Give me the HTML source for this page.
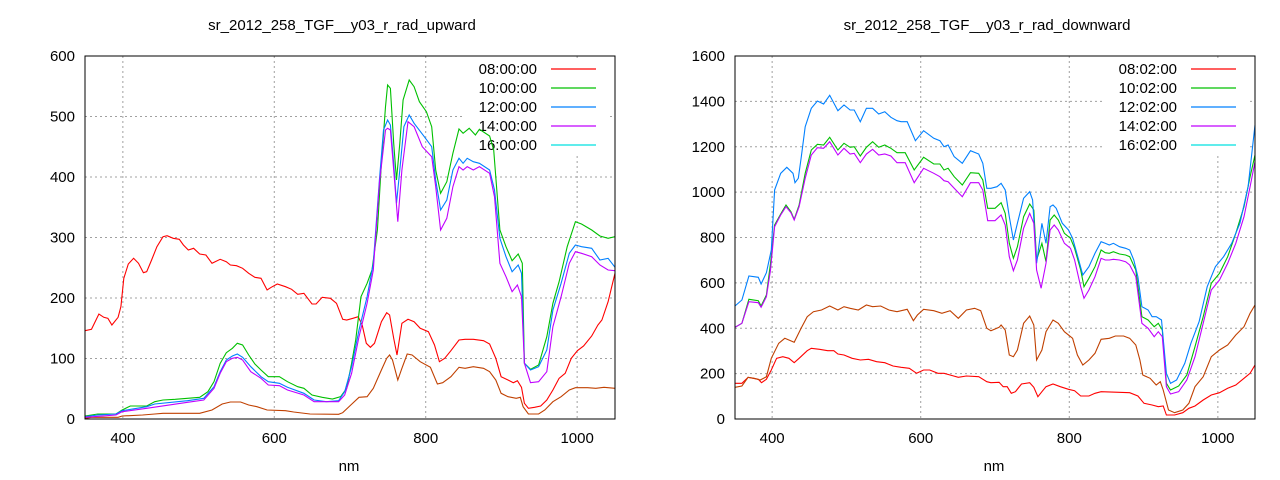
<!DOCTYPE html>
<html><head><meta charset="utf-8"><style>
html,body{margin:0;padding:0;background:#fff;}
svg{display:block;font-family:"Liberation Sans",sans-serif;}
</style></head><body>
<svg id="s" width="1280" height="480" xmlns="http://www.w3.org/2000/svg"></svg>
<script>
const S=document.getElementById('s');let h='';
function plot(o){
 const {L,R,T,B,xt,yt,ymax,title,labels,series,zl,zr}=o;
 const xm=v=>L+(v-350)/(700)*(R-L), ym=v=>B-v/ymax*(B-T);
 // grid
 for(const v of xt){const x=xm(v);h+=`<line x1="${x}" y1="${T}" x2="${x}" y2="${B}" stroke="#a0a0a0" stroke-dasharray="2,3"/>`;
  h+=`<text x="${x}" y="${B+24}" font-size="15" text-anchor="middle" fill="#000">${v}</text>`;}
 for(const v of yt){const y=ym(v);if(v>0&&v<ymax)h+=`<line x1="${L}" y1="${y}" x2="${R}" y2="${y}" stroke="#a0a0a0" stroke-dasharray="2,3"/>`;
  h+=`<text x="${L-10}" y="${y+5}" font-size="15" text-anchor="end" fill="#000">${v}</text>`;}
 h+=`<rect x="${R-153}" y="${T+2}" width="145" height="96" fill="#fff"/>`;
 const cols=['#ff0000','#00c000','#0080ff','#c000ff','#00e0e0'];
 labels.forEach((t,i)=>{const y=T+13+i*19;h+=`<text x="${R-78}" y="${y+5}" font-size="15" text-anchor="end" fill="#000">${t}</text><line x1="${R-64}" y1="${y}" x2="${R-19}" y2="${y}" stroke="${cols[i]}" stroke-width="1.2"/>`;});
 for(const [c,pts] of series){let p=[];for(let i=0;i<pts.length;i+=2){p.push((L+(pts[i]-zl)*(R-L)/(1507-zl)).toFixed(1)+','+(30+pts[i+1]/3).toFixed(1));}
  h+=`<polyline points="${p.join(' ')}" fill="none" stroke="${c}" stroke-width="1.1"/>`;}
 h+=`<rect x="${L}" y="${T}" width="${R-L}" height="${B-T}" fill="none" stroke="#000"/>`;
 h+=`<text x="${(L+R)/2-8}" y="30" font-size="15" text-anchor="middle">${title}</text>`;
 h+=`<text x="${(L+R)/2-1}" y="471" font-size="15" text-anchor="middle">nm</text>`;
}
plot({L:85,R:615,T:56,B:419,xt:[400,600,800,1000],yt:[0,100,200,300,400,500,600],ymax:600,zl:209,
title:'sr_2012_258_TGF__y03_r_rad_upward',labels:['08:00:00','10:00:00','12:00:00','14:00:00','16:00:00'],
series:[
['#ff0000',[209,902,225,898,243,852,255,862,265,865,275,885,290,862,297,830,304,745,315,702,328,685,340,700,352,728,360,725,372,690,385,650,400,620,410,617,425,625,440,628,450,645,462,660,475,655,490,672,505,675,520,700,540,688,555,695,565,705,580,707,595,715,610,730,625,742,640,745,655,780,665,772,680,762,700,770,715,778,730,793,745,790,765,822,775,822,790,802,810,805,825,820,840,868,850,870,865,865,878,860,888,885,898,940,908,952,918,940,935,875,948,848,955,855,965,925,973,975,985,880,1000,868,1015,875,1030,895,1050,905,1065,945,1077,995,1090,985,1105,962,1125,930,1140,928,1160,928,1185,932,1200,942,1215,985,1228,1040,1245,1050,1258,1058,1268,1052,1278,1072,1285,1120,1295,1135,1310,1132,1325,1128,1340,1110,1355,1080,1370,1045,1385,1030,1400,985,1415,962,1430,948,1450,918,1465,885,1475,870,1490,815,1507,730]],
['#c04000',[209,1165,225,1162,290,1162,300,1158,350,1155,380,1152,400,1150,490,1150,520,1140,545,1122,565,1116,590,1116,610,1125,630,1130,655,1140,700,1142,720,1146,760,1152,830,1153,840,1148,860,1125,880,1102,900,1100,915,1075,935,1020,948,985,955,975,962,990,975,1050,985,1015,998,972,1010,975,1030,995,1055,1012,1072,1062,1085,1058,1105,1040,1125,1012,1140,1015,1160,1010,1185,1015,1200,1025,1215,1050,1228,1090,1245,1100,1265,1105,1275,1102,1282,1130,1295,1152,1320,1152,1335,1140,1355,1115,1375,1100,1395,1080,1410,1073,1440,1073,1460,1075,1480,1072,1507,1075]],
['#00c000',[209,1158,240,1152,285,1152,300,1140,320,1128,360,1128,380,1115,400,1110,430,1108,460,1105,490,1102,510,1085,525,1055,540,1000,555,968,570,955,582,940,595,945,610,975,625,1002,640,1020,658,1040,685,1040,705,1055,730,1070,745,1075,765,1095,790,1102,815,1107,835,1100,850,1075,862,1000,872,930,885,800,900,760,912,720,925,600,935,400,945,230,950,165,957,175,965,340,972,450,980,340,988,210,1003,150,1015,170,1028,215,1045,245,1058,290,1068,420,1080,490,1095,455,1110,370,1125,297,1135,310,1150,295,1165,315,1175,298,1200,318,1210,360,1225,600,1240,650,1255,692,1270,672,1280,700,1285,1000,1300,1018,1320,1005,1340,920,1355,820,1370,755,1390,650,1410,575,1425,582,1450,600,1470,618,1490,625,1507,620]],
['#0080ff',[209,1160,240,1155,285,1152,300,1142,360,1130,380,1122,460,1112,500,1105,525,1070,540,1025,555,990,570,978,582,972,595,982,615,1010,640,1040,658,1055,685,1060,705,1072,745,1090,770,1110,800,1115,830,1112,845,1085,862,1010,880,900,900,800,915,700,930,450,940,300,950,270,957,285,965,400,972,520,980,420,990,290,1003,255,1015,280,1040,320,1058,350,1068,450,1080,540,1095,510,1110,420,1125,385,1135,400,1145,385,1160,395,1175,400,1200,420,1212,480,1225,625,1240,680,1255,725,1270,705,1278,730,1285,1000,1300,1020,1320,1010,1340,960,1355,840,1375,760,1395,670,1410,645,1425,650,1450,655,1470,690,1490,685,1507,712]],
['#c000ff',[209,1162,285,1155,300,1145,360,1135,460,1117,500,1110,525,1075,540,1030,555,995,570,985,582,982,595,990,615,1025,640,1045,658,1065,685,1067,705,1080,745,1095,770,1115,830,1115,845,1095,862,1030,880,920,900,820,915,720,930,460,945,300,950,295,957,300,965,420,975,575,985,420,1000,275,1015,290,1035,350,1058,380,1068,470,1080,600,1095,565,1110,470,1125,410,1135,420,1145,410,1160,420,1175,410,1200,430,1212,500,1225,700,1240,740,1255,785,1268,765,1278,800,1285,1000,1300,1058,1320,1055,1340,1025,1355,890,1375,800,1395,700,1410,665,1425,670,1450,680,1470,705,1490,720,1507,722]]
]});
plot({L:735,R:1255,T:56,B:419,xt:[400,600,800,1000],yt:[0,200,400,600,800,1000,1200,1400,1600],ymax:1600,zl:233,
title:'sr_2012_258_TGF__y03_r_rad_downward',labels:['08:02:00','10:02:00','12:02:00','14:02:00','16:02:00'],
series:[
['#ff0000',[233,1060,250,1060,265,1042,290,1048,298,1058,310,1048,322,1020,335,985,350,980,365,985,378,998,390,985,410,962,420,955,440,958,460,962,475,962,485,972,500,975,520,985,540,990,560,988,580,995,600,998,620,1008,640,1012,660,1015,678,1030,695,1020,710,1020,730,1030,745,1030,760,1035,780,1042,800,1038,830,1040,850,1055,860,1058,880,1057,890,1070,900,1070,910,1090,920,1085,935,1062,955,1058,965,1072,975,1100,985,1085,995,1070,1012,1062,1030,1070,1050,1078,1065,1082,1080,1098,1100,1098,1115,1090,1130,1085,1200,1088,1220,1098,1235,1120,1255,1125,1270,1130,1282,1128,1290,1155,1310,1155,1330,1148,1345,1135,1360,1128,1380,1110,1400,1095,1420,1088,1440,1075,1460,1065,1480,1045,1495,1030,1507,1005]],
['#c04000',[233,1072,250,1068,265,1042,280,1045,295,1050,310,1040,322,985,340,940,355,925,365,930,378,937,395,895,410,860,425,845,445,840,465,828,485,840,500,830,515,835,535,840,555,825,570,830,590,828,610,840,630,845,655,838,670,872,680,855,695,838,720,842,740,850,760,842,780,865,800,840,820,835,835,842,850,895,860,902,880,892,885,885,895,900,905,975,915,980,925,960,940,880,955,858,965,885,972,990,985,960,995,905,1012,870,1025,880,1040,905,1060,925,1072,975,1085,1005,1100,990,1115,970,1130,928,1150,925,1165,918,1185,918,1200,925,1215,945,1225,990,1232,1035,1250,1045,1265,1065,1275,1055,1282,1080,1295,1140,1310,1148,1330,1140,1345,1120,1360,1070,1380,1040,1400,980,1420,960,1440,945,1460,915,1480,890,1495,850,1507,825]],
['#00c000',[233,892,250,880,267,808,290,812,297,828,310,795,320,700,330,585,345,552,358,525,370,545,378,568,390,525,405,430,420,360,435,343,450,345,465,322,485,360,500,340,515,352,525,350,540,378,555,352,570,335,585,352,600,345,615,355,630,368,650,368,672,420,695,382,720,402,735,402,745,420,755,415,770,440,790,465,810,428,830,430,840,450,852,535,870,535,885,518,895,550,905,640,915,685,925,650,940,560,955,522,965,540,972,690,985,640,995,695,1005,570,1015,555,1025,570,1040,610,1055,625,1065,655,1080,720,1088,770,1100,745,1115,710,1130,660,1140,668,1150,670,1160,665,1175,672,1190,675,1200,680,1215,720,1230,860,1245,870,1260,890,1270,880,1280,900,1290,1060,1300,1080,1320,1068,1340,1035,1360,950,1380,860,1400,760,1420,730,1440,680,1460,610,1480,530,1495,440,1507,375]],
['#0080ff',[233,828,250,810,267,738,290,742,297,762,310,728,322,660,330,480,345,430,360,412,375,430,380,458,388,445,395,385,405,290,420,235,435,213,450,222,465,196,485,242,500,225,515,240,525,240,540,275,555,235,570,235,585,252,600,245,615,262,630,272,640,275,655,275,675,332,695,302,720,325,735,332,745,350,755,345,770,380,790,400,810,362,830,372,840,400,850,475,860,475,875,470,885,460,895,480,905,560,915,630,925,580,940,505,955,485,962,510,972,700,985,580,995,640,1005,530,1012,525,1020,535,1035,580,1050,600,1060,625,1075,690,1085,735,1100,710,1115,670,1130,635,1140,640,1150,645,1160,640,1175,650,1190,655,1200,660,1210,690,1220,740,1230,830,1245,840,1255,860,1265,860,1278,870,1290,1030,1300,1060,1315,1050,1335,1000,1350,940,1370,875,1390,770,1410,710,1430,680,1450,640,1470,580,1490,470,1507,285]],
['#c000ff',[233,892,250,880,267,815,290,818,297,832,310,800,320,720,330,590,345,555,358,530,370,548,378,570,390,530,405,445,420,375,435,353,450,355,465,335,485,375,500,355,515,372,525,370,540,398,555,372,570,358,585,375,600,372,615,378,630,398,650,398,672,458,695,415,720,430,735,440,745,452,755,455,770,475,790,500,810,458,830,458,840,480,852,572,870,572,885,555,895,585,905,680,915,722,925,690,940,595,955,550,965,580,972,720,983,775,995,700,1005,600,1015,585,1025,600,1040,640,1055,655,1065,690,1080,770,1088,805,1100,780,1115,740,1130,685,1140,690,1150,690,1160,688,1175,690,1190,695,1200,705,1215,740,1230,880,1245,895,1260,920,1270,905,1280,920,1290,1070,1300,1092,1320,1085,1340,1050,1360,980,1380,880,1400,780,1420,750,1440,700,1460,640,1480,560,1495,470,1507,395]]
]});
S.innerHTML=h;
</script>
</body></html>
